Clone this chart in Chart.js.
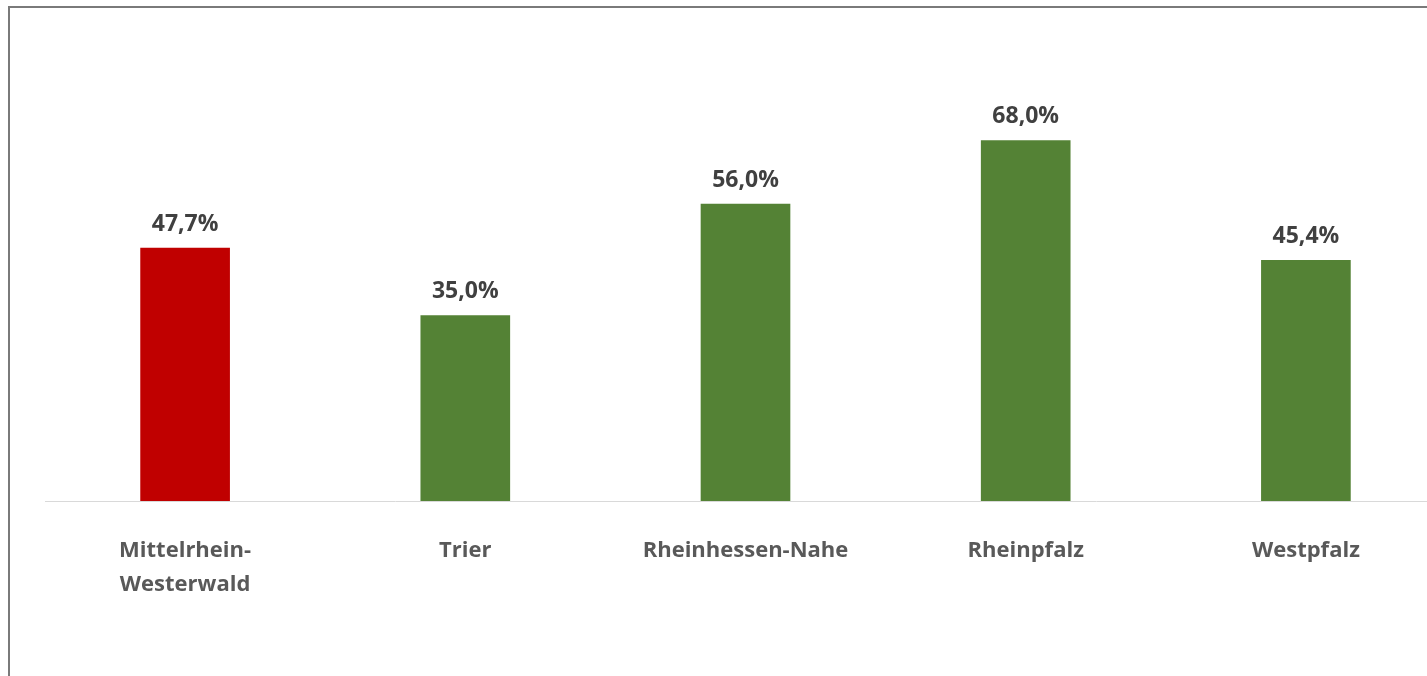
<!DOCTYPE html>
<html>
<head>
<meta charset="utf-8">
<script src="https://cdn.jsdelivr.net/npm/chart.js@4"></script>
<style>
  html, body { margin: 0; padding: 0; background: #fff; overflow: hidden; width: 1427px; height: 676px; }
  #frame { position: absolute; left: 8px; top: 6px; right: 0; bottom: 0; border-top: 2px solid #7a7a7a; border-left: 2px solid #7a7a7a; }
  #wrap { position: absolute; left: 0; top: 0; width: 1460px; height: 676px; }
</style>
</head>
<body>
<div id="frame"></div>
<div id="wrap"><canvas id="c"></canvas></div>
<script>
const categories = [["Mittelrhein-", "Westerwald"], "Trier", "Rheinhessen-Nahe", "Rheinpfalz", "Westpfalz"];
const values = [47.7, 35.0, 56.0, 68.0, 45.4];
const barColors = ["#C00000", "#548235", "#548235", "#548235", "#548235"];

const valueLabels = {
  id: 'valueLabels',
  afterDatasetsDraw(chart) {
    const ctx = chart.ctx;
    const meta = chart.getDatasetMeta(0);
    ctx.save();
    ctx.font = 'bold 23px "Open Sans"';
    ctx.fillStyle = '#404040';
    ctx.textAlign = 'center';
    ctx.textBaseline = 'middle';
    meta.data.forEach((bar, i) => {
      const v = chart.data.datasets[0].data[i];
      ctx.fillText(v.toFixed(1).replace('.', ',') + '%', bar.x, bar.y - 24);
    });
    ctx.restore();
  }
};

new Chart(document.getElementById('c'), {
  type: 'bar',
  data: {
    labels: categories,
    datasets: [{ data: values, backgroundColor: barColors, barThickness: 89 }]
  },
  options: {
    responsive: true,
    maintainAspectRatio: false,
    animation: false,
    layout: { padding: { left: 45, right: 14, top: 77, bottom: 0 } },
    plugins: { legend: { display: false }, tooltip: { enabled: false } },
    scales: {
      x: {
        grid: { display: false, drawTicks: false },
        border: { display: true, color: '#d9d9d9', width: 1 },
        ticks: { color: '#595959', font: { family: '"Open Sans"', size: 22, weight: 'bold', lineHeight: 1.55 }, padding: 33, maxRotation: 0, autoSkip: false },
        afterFit(axis) { axis.height = 175; }
      },
      y: {
        display: false,
        min: 0, max: 80
      }
    }
  },
  plugins: [valueLabels]
});
</script>
</body>
</html>
